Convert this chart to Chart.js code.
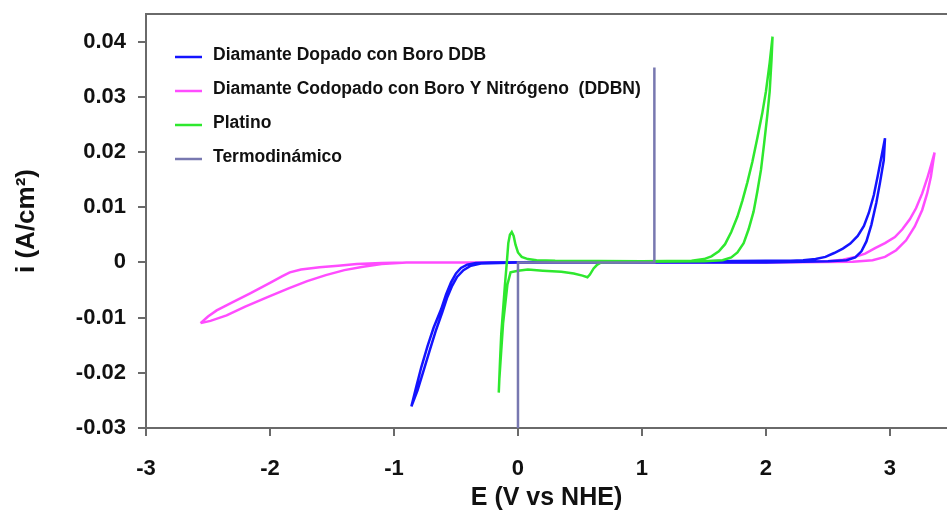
<!DOCTYPE html>
<html>
<head>
<meta charset="utf-8">
<script src="https://cdn.jsdelivr.net/npm/chart.js@4.4.0/dist/chart.umd.min.js"></script>
<style>
  html, body { margin: 0; padding: 0; background: #fff; }
  #wrap { width: 947px; height: 510px; }
</style>
</head>
<body>
<div id="wrap"><canvas id="cvChart"></canvas></div>
<script>
// axis ticks
const xTicks = [-3, -2, -1, 0, 1, 2, 3];
const yTicks = [-0.03, -0.02, -0.01, 0, 0.01, 0.02, 0.03, 0.04];

const seriesNames = [
    "Diamante Dopado con Boro DDB",
    "Diamante Codopado con Boro Y Nitrógeno  (DDBN)",
    "Platino",
    "Termodinámico"
];

// DDB (blue)
const ddbE = [-0.86, -0.82, -0.78, -0.73, -0.68, -0.62, -0.58, -0.54, -0.5, -0.46, -0.41, -0.34, -0.22,
              0.5, 1.5, 2.0, 2.2, 2.3, 2.4, 2.48, 2.55, 2.62, 2.68, 2.74, 2.79, 2.83, 2.87, 2.9, 2.93, 2.96,
              2.95, 2.92, 2.89, 2.85, 2.81, 2.77, 2.72, 2.65, 2.5, 2.0, 1.0, 0,
              -0.3, -0.38, -0.44, -0.49, -0.53, -0.57, -0.61, -0.66, -0.71, -0.76, -0.81, -0.86];
const ddbI = [-0.0261, -0.0225, -0.019, -0.0152, -0.0118, -0.0085, -0.0058, -0.0036, -0.002, -0.001, -0.0004, -0.0001, 0,
              0.0001, 0.0002, 0.0003, 0.0003, 0.0004, 0.0006, 0.001, 0.0017, 0.0025, 0.0034, 0.0048, 0.0066, 0.009, 0.0122, 0.0155, 0.019, 0.0225,
              0.0185, 0.0145, 0.0108, 0.0068, 0.0038, 0.002, 0.0009, 0.0004, 0.0002, 0, 0, 0,
              -0.0002, -0.0006, -0.0014, -0.0026, -0.0042, -0.0063, -0.009, -0.0122, -0.0158, -0.0195, -0.0232, -0.0261];

// DDBN (magenta)
const ddbnE = [-2.56, -2.5, -2.43, -2.3, -2.16, -2.0, -1.9, -1.84, -1.75, -1.6, -1.45, -1.3, -1.1, -0.9,
               0, 1.5, 2.5, 2.62, 2.72, 2.8, 2.88, 2.96, 3.04, 3.1, 3.16, 3.21, 3.26, 3.3, 3.33, 3.36,
               3.35, 3.33, 3.3, 3.26, 3.2, 3.13, 3.05, 2.96, 2.86, 2.7, 2.0, 0,
               -0.9, -1.1, -1.25, -1.4, -1.55, -1.7, -1.85, -2.02, -2.2, -2.35, -2.48, -2.56];
const ddbnI = [-0.011, -0.0098, -0.0087, -0.0072, -0.0056, -0.0037, -0.0025, -0.0018, -0.0013, -0.0009, -0.0006, -0.0003, -0.0001, 0,
               0, 0, 0.0002, 0.0005, 0.001, 0.0016, 0.0026, 0.0035, 0.0046, 0.006, 0.0078, 0.0098, 0.0125, 0.0152, 0.0175, 0.0199,
               0.0185, 0.0155, 0.0125, 0.0095, 0.0065, 0.004, 0.0022, 0.001, 0.0004, 0.0001, 0, 0,
               0, -0.0003, -0.0008, -0.0014, -0.0023, -0.0034, -0.0047, -0.0063, -0.008, -0.0096, -0.0106, -0.011];

// Platino (green)
const ptE = [-0.155, -0.145, -0.135, -0.12, -0.105, -0.09, -0.078, -0.065, -0.05, -0.035, -0.02, 0, 0.03, 0.08, 0.15, 0.3,
             1.0, 1.4, 1.5, 1.56, 1.62, 1.67, 1.72, 1.77, 1.81, 1.85, 1.89, 1.93, 1.97, 2.0, 2.03, 2.053,
             2.045, 2.03, 2.01, 1.985, 1.96, 1.93, 1.9, 1.86, 1.82, 1.77, 1.72, 1.65, 1.5, 1.0,
             0.67, 0.64, 0.61, 0.58, 0.56, 0.52, 0.45, 0.35, 0.2, 0.08, 0, -0.06, -0.085, -0.1, -0.12, -0.135, -0.15, -0.155];
const ptI = [-0.0236, -0.018, -0.013, -0.0085, -0.004, 0, 0.0035, 0.005, 0.0055, 0.0048, 0.0032, 0.0018, 0.001, 0.0006, 0.0004, 0.0003,
             0.0002, 0.0003, 0.0006, 0.0011, 0.002, 0.0033, 0.0055, 0.0083, 0.0112, 0.0145, 0.0182, 0.0225, 0.027, 0.031, 0.0362, 0.0409,
             0.0368, 0.031, 0.0265, 0.0215, 0.0168, 0.0128, 0.0092, 0.006, 0.0035, 0.0018, 0.0009, 0.0004, 0.0002, 0.0001,
             0, -0.0004, -0.0011, -0.0022, -0.0027, -0.0024, -0.002, -0.0017, -0.0015, -0.0013, -0.0015, -0.0018, -0.004, -0.007, -0.011, -0.016, -0.021, -0.0236];

// Termodinámico (slate)
const thermoE = [0, 0, 1.1, 1.1];
const thermoI = [-0.03, 0, 0, 0.0353];

const colors = ["#1414ff", "#ff4cff", "#2ee82e", "#7878b0"];
const fontFamily = "'Liberation Sans', Arial, sans-serif";

function toPoints(xs, ys) {
    return xs.map((x, i) => ({ x: x, y: ys[i] }));
}

// legend drawn inside the plot, top left
const innerLegend = {
    id: "innerLegend",
    afterDraw(chart) {
        const ctx = chart.ctx;
        ctx.save();
        ctx.font = "bold 17.5px " + fontFamily;
        ctx.textBaseline = "middle";
        chart.data.datasets.forEach((ds, i) => {
            const y = 55 + i * 34;
            ctx.strokeStyle = ds.borderColor;
            ctx.lineWidth = 2.5;
            ctx.beginPath();
            ctx.moveTo(175, y + 2);
            ctx.lineTo(202, y + 2);
            ctx.stroke();
            ctx.fillStyle = "#111";
            ctx.fillText(ds.label, 213, y);
        });
        // top frame line
        const a = chart.chartArea;
        ctx.strokeStyle = "#6a6a6a";
        ctx.lineWidth = 2;
        ctx.beginPath();
        ctx.moveTo(a.left, a.top);
        ctx.lineTo(a.right, a.top);
        ctx.stroke();
        ctx.restore();
    }
};

const ctx = document.getElementById("cvChart").getContext("2d");
new Chart(ctx, {
    type: "scatter",
    data: {
        datasets: [
            { label: seriesNames[0], data: toPoints(ddbE, ddbI), borderColor: colors[0], order: 2 },
            { label: seriesNames[1], data: toPoints(ddbnE, ddbnI), borderColor: colors[1], order: 3 },
            { label: seriesNames[2], data: toPoints(ptE, ptI), borderColor: colors[2], order: 1 },
            { label: seriesNames[3], data: toPoints(thermoE, thermoI), borderColor: colors[3], order: 0 }
        ].map(ds => Object.assign(ds, {
            showLine: true, pointRadius: 0, borderWidth: 2.5, tension: 0, fill: false
        }))
    },
    options: {
        responsive: true,
        maintainAspectRatio: false,
        animation: false,
        layout: { padding: { top: 14, right: 0, left: 0, bottom: 0 } },
        plugins: {
            legend: { display: false },
            tooltip: { enabled: false }
        },
        scales: {
            x: {
                type: "linear",
                min: -3,
                max: 3.46,
                afterBuildTicks: s => { s.ticks = xTicks.map(v => ({ value: v })); },
                afterFit: s => { s.height = 82; s.paddingLeft = 0; s.paddingRight = 0; },
                ticks: {
                    color: "#111",
                    font: { family: fontFamily, size: 22, weight: "bold" },
                    padding: 20,
                    callback: v => String(v)
                },
                grid: { drawOnChartArea: false, drawTicks: true, tickLength: 8, color: "#6a6a6a", lineWidth: 2 },
                border: { color: "#6a6a6a", width: 2 },
                title: {
                    display: true,
                    text: "E (V vs NHE)",
                    color: "#111",
                    font: { family: fontFamily, size: 25, weight: "bold" },
                    padding: { top: 0, bottom: -3 }
                }
            },
            y: {
                type: "linear",
                min: -0.03,
                max: 0.045,
                afterBuildTicks: s => { s.ticks = yTicks.map(v => ({ value: v })); },
                afterFit: s => { s.width = 146; s.paddingTop = 0; s.paddingBottom = 0; },
                ticks: {
                    color: "#111",
                    font: { family: fontFamily, size: 22, weight: "bold" },
                    padding: 12,
                    callback: v => (v === 0 ? "0" : v.toFixed(2))
                },
                grid: { drawOnChartArea: false, drawTicks: true, tickLength: 8, color: "#6a6a6a", lineWidth: 2 },
                border: { color: "#6a6a6a", width: 2 },
                title: {
                    display: true,
                    text: "i (A/cm²)",
                    color: "#111",
                    font: { family: fontFamily, size: 26, weight: "bold" },
                    padding: { top: 11, bottom: 0 }
                }
            }
        }
    },
    plugins: [innerLegend]
});
</script>
</body>
</html>
